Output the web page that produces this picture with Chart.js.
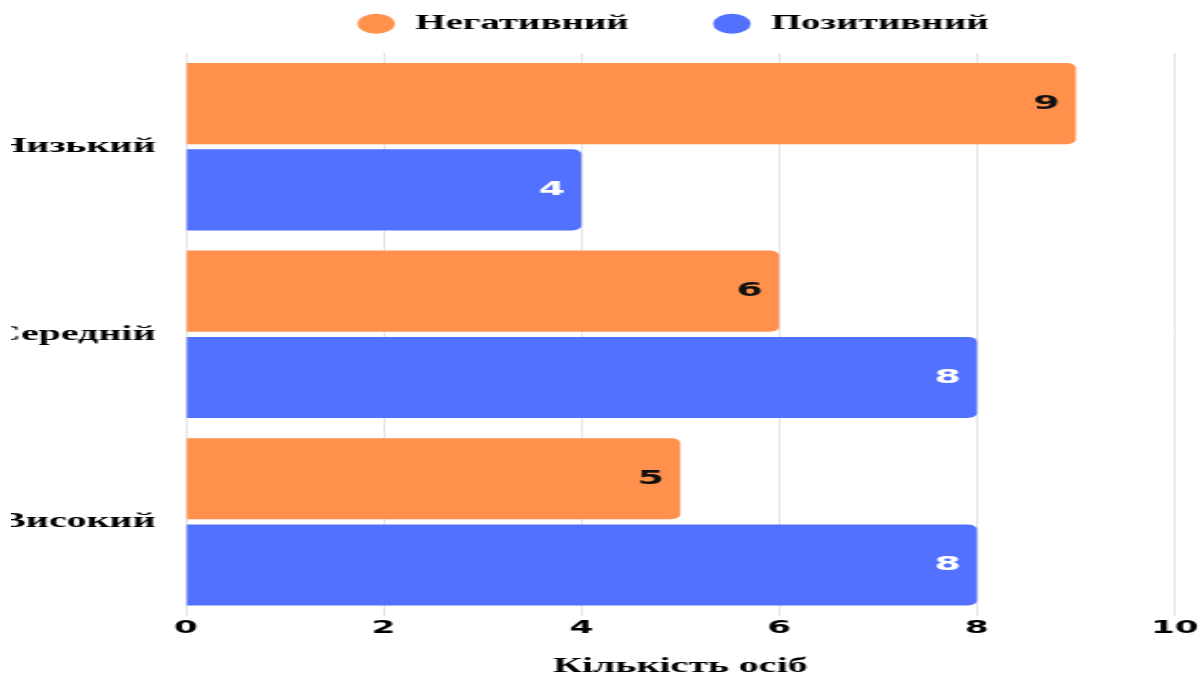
<!DOCTYPE html>
<html>
<head>
<meta charset="utf-8">
<script src="https://cdn.jsdelivr.net/npm/chart.js@4.4.0/dist/chart.umd.min.js"></script>
<style>
  html, body { margin: 0; padding: 0; background: #fff; overflow: hidden; }
  body { width: 1201px; height: 673px; position: relative; }
  /* chart is drawn narrow and stretched sideways */
  #wrap { position: absolute; left: 11px; top: 0; width: 627px; height: 683px;
          transform-origin: 0 0; transform: scaleX(1.9); }
</style>
</head>
<body>
<div id="wrap"><canvas id="barChart"></canvas></div>
<script>
var levels = ['Низький', 'Середній', 'Високий'];
var negative = [9, 6, 5];
var positive = [4, 8, 8];
var xTicks = [0, 2, 4, 6, 8, 10];

var serif = 'Liberation Serif';
var sans = 'DejaVu Sans';

// value written inside the end of each bar
var barValues = {
    id: 'barValues',
    afterDatasetsDraw: function (chart) {
        var ctx = chart.ctx;
        ctx.save();
        ctx.font = 'bold 20px "' + sans + '"';
        ctx.textAlign = 'right';
        ctx.textBaseline = 'middle';
        chart.data.datasets.forEach(function (ds, i) {
            var meta = chart.getDatasetMeta(i);
            ctx.fillStyle = ds.valueColor;
            meta.data.forEach(function (bar, j) {
                ctx.fillText(ds.data[j], bar.x - 8.5, bar.y);
            });
        });
        ctx.restore();
    }
};

// nudge the legend a little to the left
var legendShift = {
    id: 'legendShift',
    afterLayout: function (chart) {
        chart.legend.left -= 4;
        chart.legend.right -= 4;
    }
};

var ctxBar = document.getElementById('barChart');
var barChart = new Chart(ctxBar, {
    type: 'bar',
    data: {
        labels: levels,
        datasets: [
        {
            label: 'Негативний',
            data: negative,
            backgroundColor: '#FF914D',
            valueColor: '#111111',
            borderRadius: 5,
            borderSkipped: 'start',
            categoryPercentage: 0.92,
            barPercentage: 0.94
        },
        {
            label: 'Позитивний',
            data: positive,
            backgroundColor: '#5271FF',
            valueColor: '#ffffff',
            borderRadius: 5,
            borderSkipped: 'start',
            categoryPercentage: 0.92,
            barPercentage: 0.94
        }]
    },
    options: {
        indexAxis: 'y',
        responsive: true,
        maintainAspectRatio: false,
        animation: false,
        layout: {
            padding: { top: -30.5, right: 13.3, bottom: 0, left: 0 }
        },
        scales: {
            x: {
                min: 0,
                max: 10,
                afterBuildTicks: function (scale) {
                    scale.ticks = xTicks.map(function (v) { return { value: v }; });
                },
                afterFit: function (scale) { scale.height = 67.4; },
                grid: { color: '#e4e4e4', lineWidth: 1, drawTicks: false },
                border: { display: false },
                ticks: {
                    color: '#000',
                    padding: 2,
                    font: { family: sans, size: 18, weight: 'bold' }
                },
                title: {
                    display: true,
                    text: 'Кількість осіб',
                    color: '#000',
                    font: { family: serif, size: 21, weight: 'bold' },
                    padding: { top: 12, bottom: 4 }
                }
            },
            y: {
                afterFit: function (scale) { scale.width = 92; },
                grid: { display: false, drawTicks: false },
                border: { display: false },
                ticks: {
                    color: '#000',
                    padding: 16,
                    font: { family: serif, size: 21, weight: 'bold' }
                }
            }
        },
        plugins: {
            legend: {
                position: 'top',
                fullSize: false,
                labels: {
                    usePointStyle: true,
                    pointStyle: 'circle',
                    boxHeight: 14,
                    padding: 44,
                    color: '#000',
                    font: { family: serif, size: 20.5, weight: 'bold' }
                }
            },
            // empty spacer under the legend
            subtitle: {
                display: true,
                text: '',
                weight: 500,
                padding: 0,
                font: { size: 10, lineHeight: 0.9 }
            },
            tooltip: { enabled: false }
        }
    },
    plugins: [barValues, legendShift]
});
</script>
</body>
</html>
